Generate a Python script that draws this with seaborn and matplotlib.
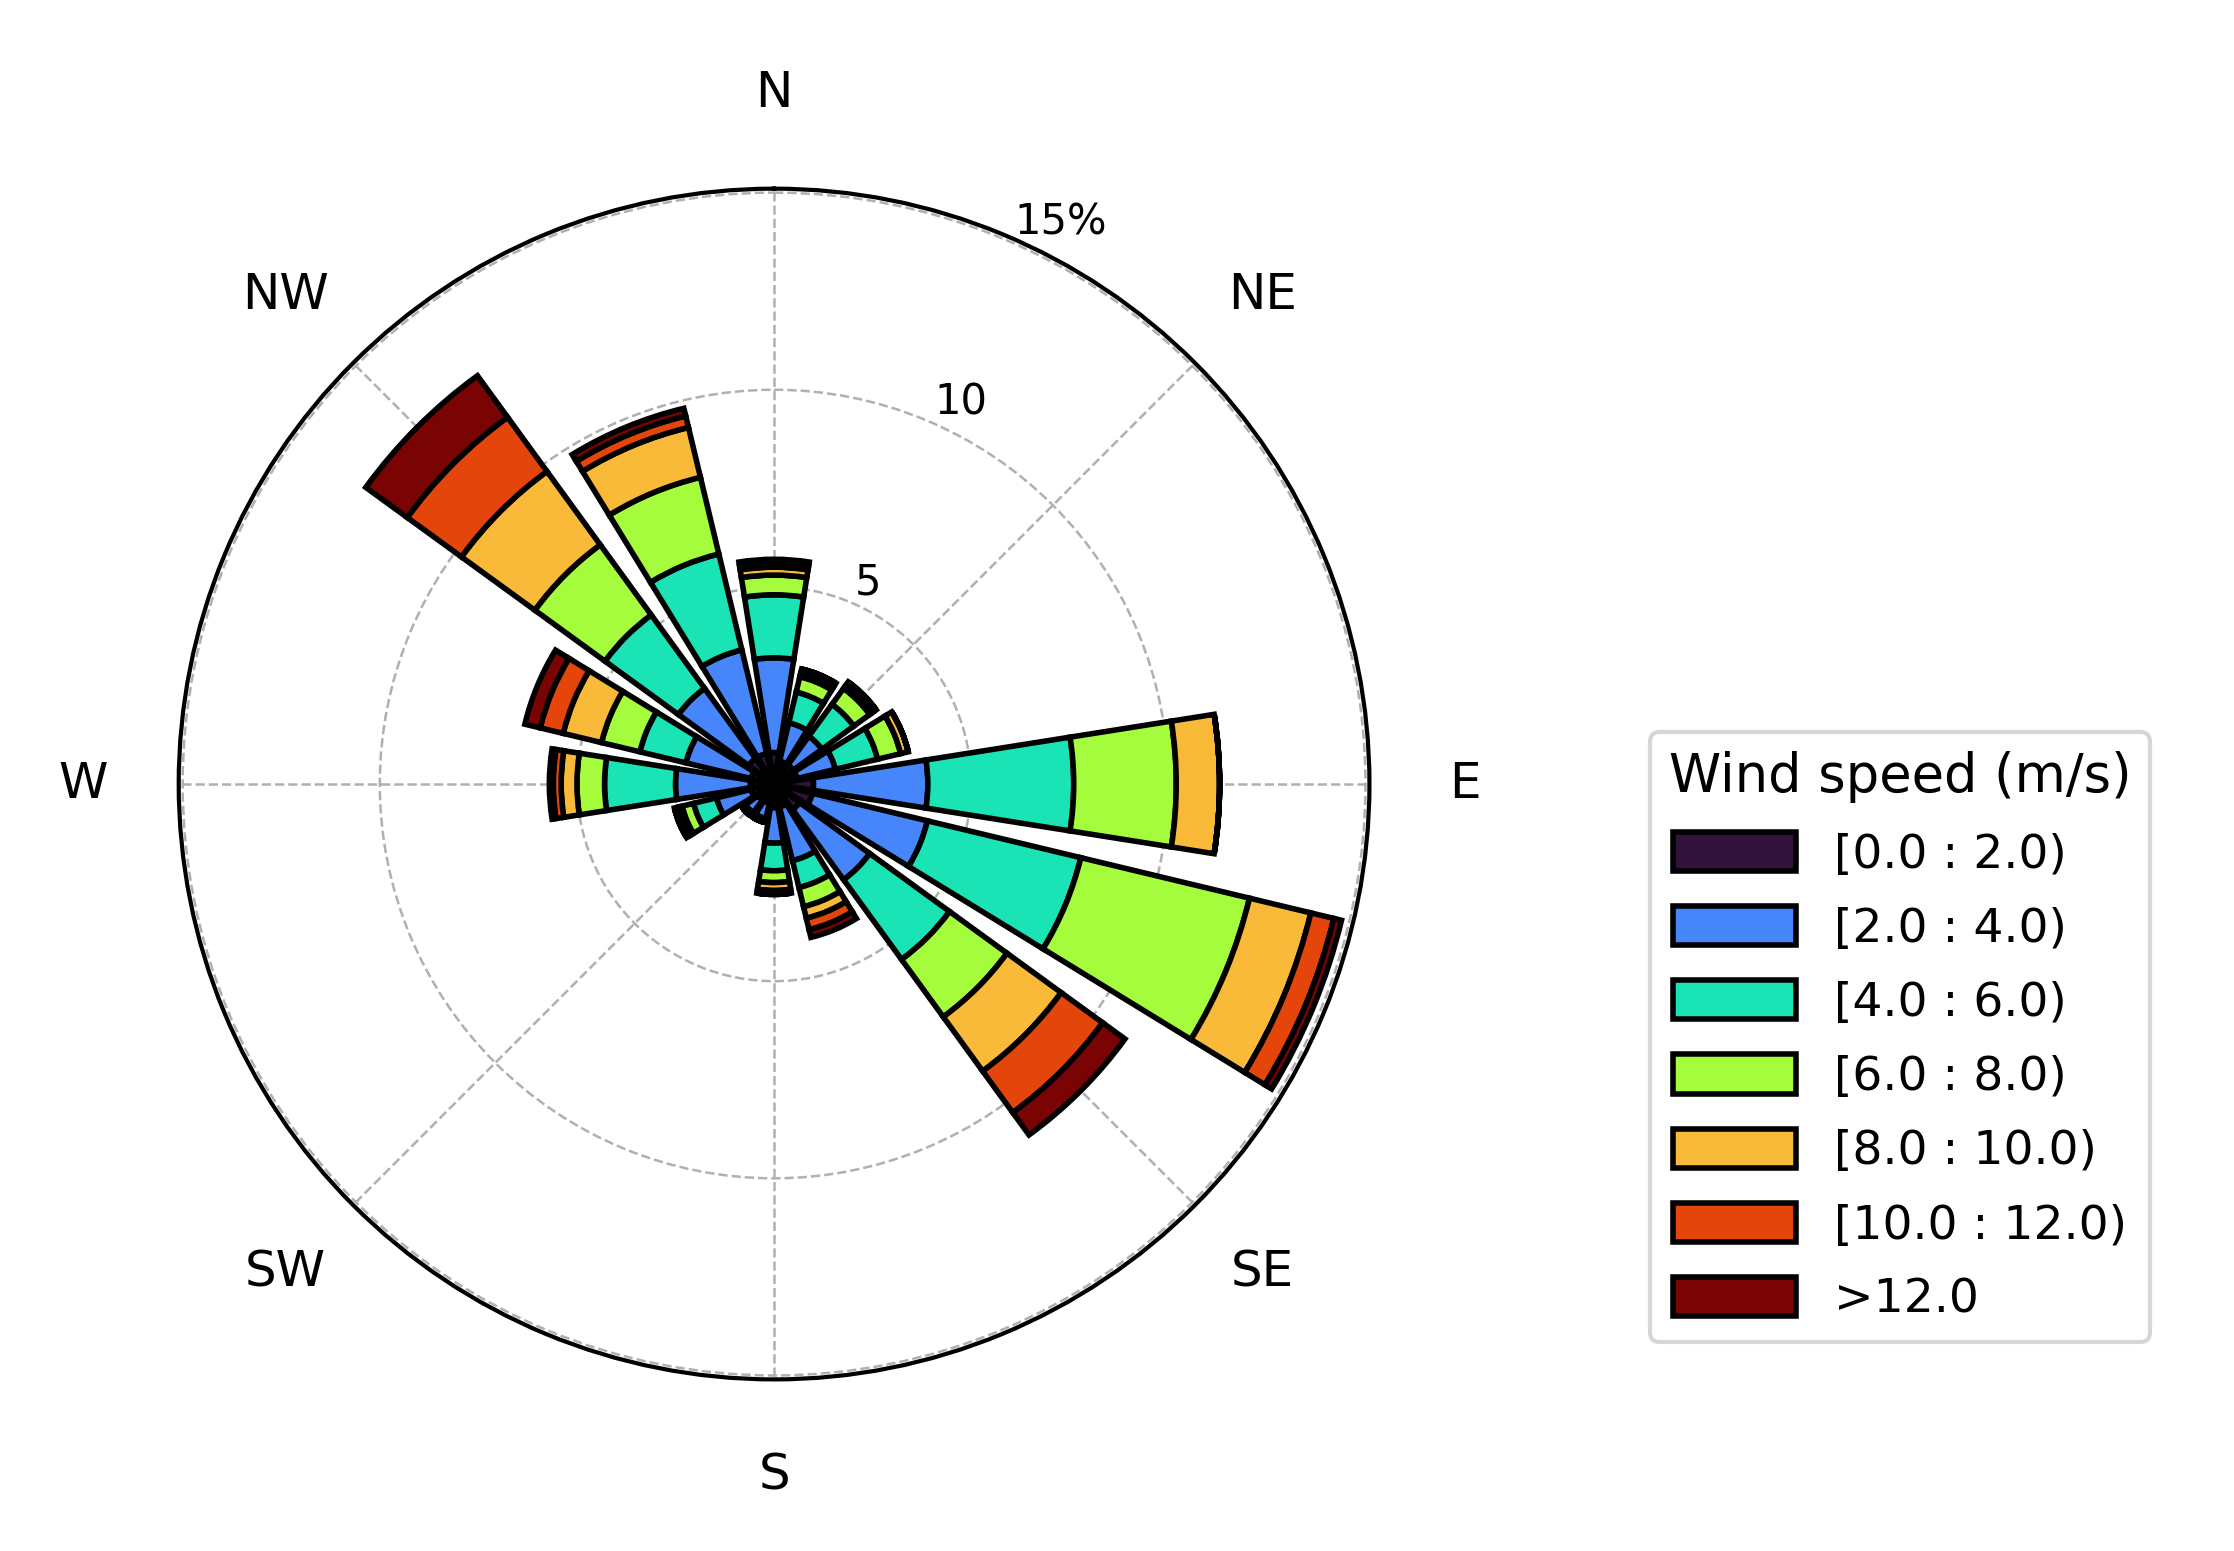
import numpy as np
import matplotlib
matplotlib.use("Agg")
import matplotlib.pyplot as plt
import seaborn as sns

sns.set_style("white")
plt.rcParams.update({"text.color": "black", "xtick.color": "black", "ytick.color": "black"})

directions = ["N","NNE","NE","ENE","E","ESE","SE","SSE","S","SSW","SW","WSW","W","WNW","NW","NNW"]
bins = ["[0.0 : 2.0)","[2.0 : 4.0)","[4.0 : 6.0)","[6.0 : 8.0)","[8.0 : 10.0)","[10.0 : 12.0)",">12.0"]
# cumulative frequency (%) per direction at upper edge of each speed bin
cum = {
 "N":   [0.8, 3.2, 4.8, 5.3, 5.5, 5.6, 5.7],
 "NNE": [0.6, 1.6, 2.4, 2.8, 2.9, 3.0, 3.0],
 "NE":  [0.6, 1.5, 2.5, 3.0, 3.1, 3.2, 3.2],
 "ENE": [0.6, 1.6, 2.7, 3.3, 3.5, 3.5, 3.5],
 "E":   [1.0, 3.9, 7.6, 10.2, 11.3, 11.3, 11.3],
 "ESE": [1.0, 4.0, 8.0, 12.4, 14.0, 14.6, 14.8],
 "SE":  [0.8, 3.0, 5.5, 7.3, 9.0, 10.3, 11.0],
 "SSE": [0.6, 2.0, 2.7, 3.2, 3.5, 3.8, 4.0],
 "S":   [0.6, 1.5, 2.2, 2.5, 2.7, 2.8, 2.8],
 "SSW": [0.5, 0.9, 1.0, 1.0, 1.0, 1.0, 1.0],
 "SW":  [0.5, 0.9, 1.0, 1.0, 1.0, 1.0, 1.0],
 "WSW": [0.6, 1.5, 2.1, 2.4, 2.5, 2.6, 2.6],
 "W":   [0.6, 2.5, 4.3, 5.0, 5.4, 5.6, 5.7],
 "WNW": [0.6, 2.3, 3.5, 4.5, 5.5, 6.1, 6.5],
 "NW":  [0.8, 3.0, 5.3, 7.5, 9.8, 11.5, 12.8],
 "NNW": [0.8, 3.5, 6.0, 8.0, 9.3, 9.6, 9.8],
}

cmap = matplotlib.colormaps["turbo"]
colors = [cmap(i/6) for i in range(7)]

fig = plt.figure(figsize=(11.17, 7.755), dpi=200)
ax = fig.add_axes([0.080, 0.110, 0.533, 0.769], projection="polar")
ax.set_theta_zero_location("N")
ax.set_theta_direction(-1)
theta = np.deg2rad(np.arange(16) * 22.5)
width = np.deg2rad(18)
cumarr = np.array([cum[d] for d in directions])
for j in range(7):
    bottom = cumarr[:, j-1] if j > 0 else np.zeros(16)
    ax.bar(theta, cumarr[:, j] - bottom, width=width, bottom=bottom,
           color=colors[j], edgecolor="black", linewidth=2, label=bins[j], zorder=3)
ax.set_ylim(0, 15.1)
ax.set_yticks([5, 10, 15])
ax.set_yticklabels(["5", "10", "15%"], fontsize=15)
ax.set_rlabel_position(24)
ax.set_xticks(np.deg2rad(np.arange(0, 360, 45)))
ax.set_xticklabels(["N","NE","E","SE","S","SW","W","NW"], fontsize=18)
ax.tick_params(axis="x", pad=24)
ax.grid(True, color="#b0b0b0", linestyle="--", linewidth=0.9)
ax.spines["polar"].set_linewidth(1.5)
ax.spines["polar"].set_color("black")
leg = fig.legend(loc="upper left", bbox_to_anchor=(0.728, 0.543), title="Wind speed (m/s)",
                 fontsize=17, title_fontsize=19, frameon=True, handlelength=2.6,
                 handleheight=0.9, labelspacing=0.6)
leg.get_frame().set_linewidth(1.5)
fig.savefig("out.png", dpi=200)
